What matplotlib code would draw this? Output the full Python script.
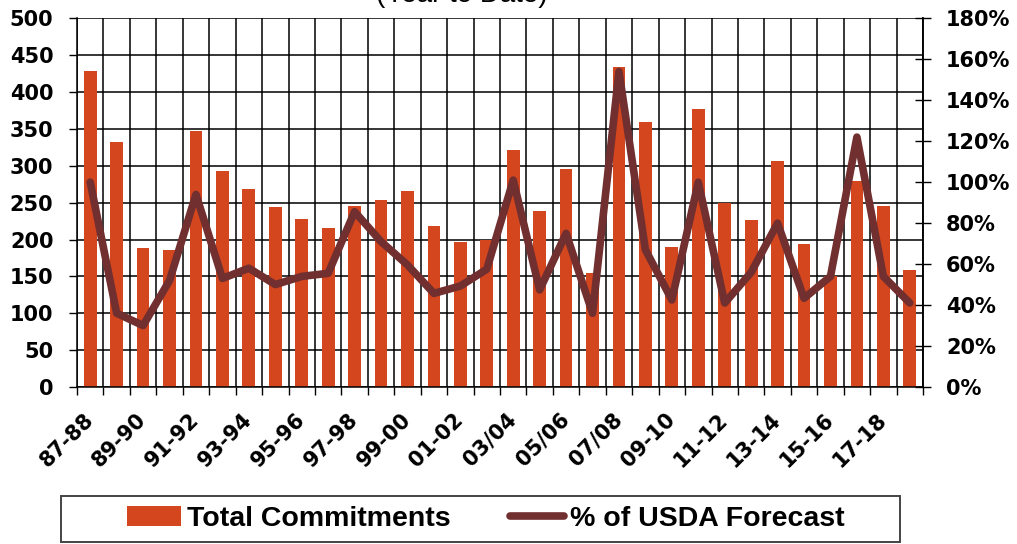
import numpy as np
import matplotlib
matplotlib.use("Agg")
import matplotlib.pyplot as plt
from matplotlib.ticker import PercentFormatter, FixedLocator
from matplotlib.patches import Rectangle
from matplotlib.lines import Line2D
from matplotlib.patches import Patch

plt.rcParams['font.family'] = ['Liberation Sans', 'DejaVu Sans']

# ---- data ----
seasons = ["87-88", "88-89", "89-90", "90-91", "91-92", "92-93", "93-94", "94-95",
           "95-96", "96-97", "97-98", "98-99", "99-00", "00-01", "01-02", "02-03",
           "03/04", "04/05", "05/06", "06/07", "07/08", "08-09", "09-10", "10-11",
           "11-12", "12-13", "13-14", "14-15", "15-16", "16-17", "17-18", "18-19"]
total_commitments = [428, 332, 188, 186, 347, 293, 269, 244, 228, 215, 246, 253,
                     266, 219, 197, 199, 321, 239, 296, 154, 434, 360, 190, 377,
                     250, 226, 307, 194, 150, 280, 246, 159]
pct_usda_forecast = [100, 36, 30, 52, 94, 53, 58, 50, 54, 55.5, 85.6, 71,
                     59.6, 45.7, 49.3, 57.5, 101, 47.4, 75, 36, 154, 67, 42.5, 100,
                     41, 56, 80, 43.3, 54, 122, 54, 41]
shown_labels = seasons[::2]
left_ticks = [0, 50, 100, 150, 200, 250, 300, 350, 400, 450, 500]
right_ticks = [0, 20, 40, 60, 80, 100, 120, 140, 160, 180]

bar_color = "#D4461E"
line_color = "#722F30"
tick_font = {'family': 'DejaVu Sans', 'weight': 'bold', 'size': 15}

W, H = 1017, 544
fig = plt.figure(figsize=(W / 100, H / 100), dpi=100)
ax = fig.add_axes([77 / W, 1 - 387 / H, (923 - 77) / W, (387 - 18.3) / H])

x = np.arange(len(seasons))
ax.bar(x, total_commitments, width=0.48, color=bar_color, zorder=2)
ax.set_xlim(-0.5, len(seasons) - 0.5)
ax.set_ylim(0, 500)
ax.set_yticks(left_ticks)
ax.set_axisbelow(True)

ax.set_xticks(x[::2])
ax.set_xticklabels(shown_labels, rotation=45, ha='right', va='center',
                   rotation_mode='anchor', fontdict=tick_font)
ax.xaxis.set_minor_locator(FixedLocator(np.arange(-0.5, len(seasons), 1)))
ax.tick_params(axis='x', which='major', length=0, pad=21)
ax.tick_params(axis='x', which='minor', length=6, width=1, direction='out', color='black')
ax.tick_params(axis='y', which='major', length=6, width=1, direction='out', pad=11)
for lab in ax.get_yticklabels():
    lab.set_fontproperties(tick_font)

ax.grid(True, axis='y', which='major', color='black', lw=1.1)
ax.grid(True, axis='x', which='minor', color='black', lw=1.1)
ax.grid(False, axis='x', which='major')

for s in ['left', 'right', 'bottom']:
    ax.spines[s].set_color('black')
    ax.spines[s].set_linewidth(1.1)
ax.spines['top'].set_visible(False)

ax2 = ax.twinx()
ax2.plot(x, pct_usda_forecast, color=line_color, lw=5.5,
         solid_joinstyle='round', solid_capstyle='round', zorder=3)
ax2.set_ylim(0, 180)
ax2.set_yticks(right_ticks)
ax2.yaxis.set_major_formatter(PercentFormatter(decimals=0))
ax2.tick_params(axis='y', length=11, width=1, direction='inout', pad=11)
for lab in ax2.get_yticklabels():
    lab.set_fontproperties(tick_font)
for s in ['left', 'top', 'bottom']:
    ax2.spines[s].set_visible(False)
ax2.spines['right'].set_linewidth(1.1)

fig.text(462 / W, 1 - 2 / H, "(Year to Date)", ha='center', va='baseline',
         fontsize=20)

# legend
fig.patches.append(Rectangle((61 / W, 1 - 542 / H), (900 - 61) / W, (542 - 496) / H,
                             transform=fig.transFigure, fill=False,
                             edgecolor='#444444', lw=1.4))
handles = [Patch(facecolor=bar_color, edgecolor='none'),
           Line2D([0], [0], color=line_color, lw=5.5, solid_capstyle='round')]
fig.legend(handles, ["Total Commitments", "% of USDA Forecast"], ncol=2,
           loc='center', bbox_to_anchor=(486 / W, 1 - 519 / H), frameon=False,
           prop={'weight': 'bold', 'size': 20.5}, handlelength=1.9,
           handletextpad=0.2, columnspacing=2.1, borderpad=0)

fig.savefig("out.png", dpi=100)
